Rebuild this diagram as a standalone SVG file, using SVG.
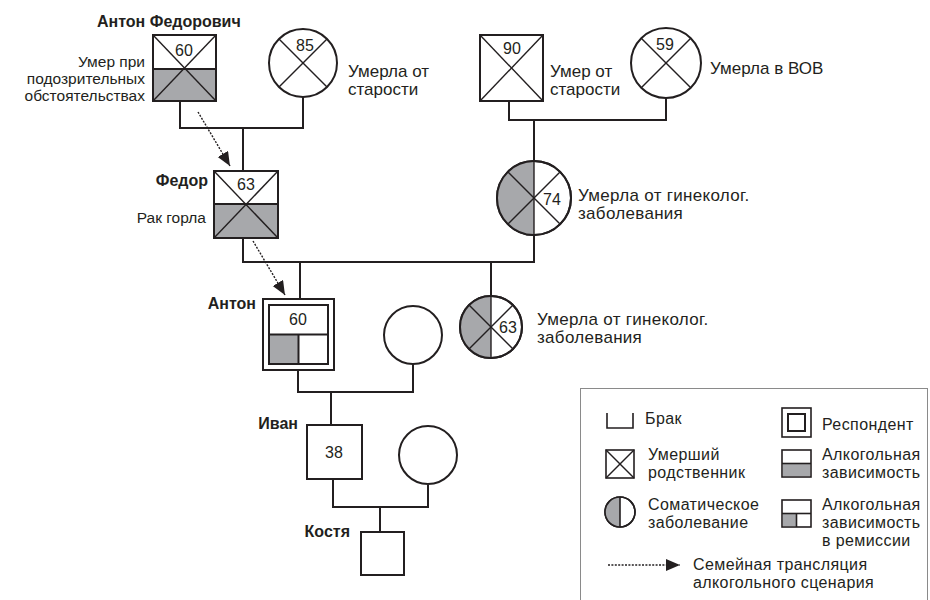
<svg xmlns="http://www.w3.org/2000/svg" width="930" height="600" viewBox="0 0 930 600">
<defs>
<style>
.t{font-family:"Liberation Sans",Arial,sans-serif;font-size:17px;fill:#231f20}
.lg{font-family:"Liberation Sans",Arial,sans-serif;font-size:16px;fill:#231f20;letter-spacing:0.4px}
.l{font-family:"Liberation Sans",Arial,sans-serif;font-size:15.5px;fill:#231f20;text-anchor:end}
.b{font-family:"Liberation Sans",Arial,sans-serif;font-size:16px;font-weight:bold;fill:#231f20}
.n{font-family:"Liberation Sans",Arial,sans-serif;font-size:16px;fill:#231f20;text-anchor:middle}
.sh{fill:#fff;stroke:#231f20;stroke-width:2}
.g{fill:#a7a8ab;stroke:none}
.x{stroke:#231f20;stroke-width:1.4;fill:none}
.c{stroke:#231f20;stroke-width:2;fill:none}
.d{stroke:#231f20;stroke-width:1.4;fill:none;stroke-dasharray:2 1.4}
</style>
<marker id="ah" markerUnits="userSpaceOnUse" markerWidth="15" markerHeight="13" refX="14" refY="6" orient="auto">
<path d="M0,0 L14,6 L0,12 Z" fill="#231f20"/>
</marker>
</defs>
<rect width="930" height="600" fill="#fff"/>

<g id="connectors">
<polyline class="c" points="180,101 180,128 303,128 303,97"/>
<line class="c" x1="243" y1="128" x2="243" y2="171"/>
<polyline class="c" points="509,102 509,120 666,120 666,98"/>
<line class="c" x1="534" y1="120" x2="534" y2="161"/>
<polyline class="c" points="243,238 243,262 534,262 534,235"/>
<line class="c" x1="300" y1="262" x2="300" y2="299"/>
<line class="c" x1="491" y1="262" x2="491" y2="296"/>
<polyline class="c" points="298,370 298,392 413,392 413,364"/>
<line class="c" x1="331" y1="392" x2="331" y2="425"/>
<polyline class="c" points="333,479 333,507 428,507 428,485"/>
<line class="c" x1="380" y1="507" x2="380" y2="532"/>
<line class="d" x1="198" y1="112" x2="230" y2="166" marker-end="url(#ah)"/>
<line class="d" x1="253" y1="241" x2="285" y2="295" marker-end="url(#ah)"/>
</g>

<g id="anton-fedorovich">
<rect class="sh" x="153" y="35" width="63" height="66"/>
<rect class="g" x="154" y="69" width="61" height="31"/>
<line class="c" x1="153" y1="69" x2="216" y2="69"/>
<rect x="153" y="35" width="63" height="66" fill="none" stroke="#231f20" stroke-width="2"/>
<line class="x" x1="153" y1="35" x2="216" y2="101"/>
<line class="x" x1="216" y1="35" x2="153" y2="101"/>
<text class="n" x="184" y="56">60</text>
<text class="b" x="97" y="27">Антон Федорович</text>
<text class="l" x="145" y="67">Умер при</text>
<text class="l" x="145" y="84">подозрительных</text>
<text class="l" x="145" y="101">обстоятельствах</text>
</g>

<g id="grandmother-85">
<circle class="sh" cx="303" cy="63" r="34"/>
<line class="x" x1="279" y1="39" x2="327" y2="87"/>
<line class="x" x1="327" y1="39" x2="279" y2="87"/>
<text class="n" x="305" y="51">85</text>
<text class="t" x="348" y="77">Умерла от</text>
<text class="t" x="348" y="95">старости</text>
</g>

<g id="grandfather-90">
<rect class="sh" x="480" y="35" width="63" height="66"/>
<line class="x" x1="480" y1="35" x2="543" y2="101"/>
<line class="x" x1="543" y1="35" x2="480" y2="101"/>
<text class="n" x="512" y="54">90</text>
<text class="t" x="550" y="77">Умер от</text>
<text class="t" x="550" y="95">старости</text>
</g>

<g id="grandmother-59">
<circle class="sh" cx="666" cy="63" r="35"/>
<line class="x" x1="641" y1="38" x2="691" y2="88"/>
<line class="x" x1="691" y1="38" x2="641" y2="88"/>
<text class="n" x="665" y="50">59</text>
<text class="t" x="710" y="74">Умерла в ВОВ</text>
</g>

<g id="fedor">
<rect class="sh" x="214" y="171" width="64" height="67"/>
<rect class="g" x="215" y="204" width="62" height="33"/>
<line class="c" x1="214" y1="204" x2="278" y2="204"/>
<rect x="214" y="171" width="64" height="67" fill="none" stroke="#231f20" stroke-width="2"/>
<line class="x" x1="214" y1="171" x2="278" y2="238"/>
<line class="x" x1="278" y1="171" x2="214" y2="238"/>
<text class="n" x="246" y="190">63</text>
<text class="b" x="208" y="186" text-anchor="end">Федор</text>
<text class="l" x="206" y="223">Рак горла</text>
</g>

<g id="mother-74">
<circle class="sh" cx="534" cy="198" r="37"/>
<path class="g" d="M534,161 A37,37 0 0 0 534,235 Z"/>
<circle cx="534" cy="198" r="37" fill="none" stroke="#231f20" stroke-width="2"/>
<line class="x" x1="534" y1="161" x2="534" y2="235"/>
<line class="x" x1="508" y1="172" x2="560" y2="224"/>
<line class="x" x1="560" y1="172" x2="508" y2="224"/>
<text class="n" x="552" y="205">74</text>
<text class="t" x="578" y="201" letter-spacing="0.3">Умерла от гинеколог.</text>
<text class="t" x="578" y="219" letter-spacing="0.3">заболевания</text>
</g>

<g id="anton">
<rect class="sh" x="263" y="299" width="71" height="71"/>
<rect class="sh" x="269" y="305" width="59" height="59"/>
<rect class="g" x="270" y="335" width="28" height="28"/>
<line class="c" x1="269" y1="334.5" x2="328" y2="334.5"/>
<line class="c" x1="298.5" y1="334.5" x2="298.5" y2="364"/>
<text class="n" x="298" y="325">60</text>
<text class="b" x="256" y="309" text-anchor="end">Антон</text>
</g>

<g id="aunt-63">
<circle class="sh" cx="491" cy="327" r="31"/>
<path class="g" d="M491,296 A31,31 0 0 0 491,358 Z"/>
<circle cx="491" cy="327" r="31" fill="none" stroke="#231f20" stroke-width="2"/>
<line class="x" x1="491" y1="296" x2="491" y2="358"/>
<line class="x" x1="469" y1="305" x2="513" y2="349"/>
<line class="x" x1="513" y1="305" x2="469" y2="349"/>
<text class="n" x="508" y="333">63</text>
<text class="t" x="537" y="325" letter-spacing="0.3">Умерла от гинеколог.</text>
<text class="t" x="537" y="343" letter-spacing="0.3">заболевания</text>
</g>

<g id="anton-wife">
<circle class="sh" cx="413" cy="335" r="29"/>
</g>

<g id="ivan">
<rect class="sh" x="307" y="425" width="55" height="54"/>
<text class="n" x="334" y="458">38</text>
<text class="b" x="298" y="429" text-anchor="end">Иван</text>
</g>

<g id="ivan-wife">
<circle class="sh" cx="428" cy="455" r="29"/>
</g>

<g id="kostya">
<rect class="sh" x="361" y="532" width="43" height="43"/>
<text class="b" x="350" y="537" text-anchor="end">Костя</text>
</g>

<g id="legend">
<rect x="580.5" y="388.5" width="347" height="215" fill="#fff" stroke="#8a8a8a" stroke-width="1"/>
<polyline points="607,413 607,428 633,428 633,413" fill="none" stroke="#231f20" stroke-width="1.6"/>
<text class="lg" x="645" y="424">Брак</text>
<rect x="782" y="408" width="29" height="29" fill="#fff" stroke="#231f20" stroke-width="1.6"/>
<rect x="788" y="414" width="17" height="17" fill="#fff" stroke="#231f20" stroke-width="2"/>
<text class="lg" x="822" y="430">Респондент</text>
<rect x="606" y="450" width="28" height="28" fill="#fff" stroke="#231f20" stroke-width="1.6"/>
<line class="x" x1="606" y1="450" x2="634" y2="478"/>
<line class="x" x1="634" y1="450" x2="606" y2="478"/>
<text class="lg" x="648" y="460">Умерший</text>
<text class="lg" x="648" y="478">родственник</text>
<rect x="782" y="450" width="29" height="27" fill="#fff" stroke="#231f20" stroke-width="1.6"/>
<rect class="g" x="783" y="464" width="27" height="12"/>
<line x1="782" y1="463.5" x2="811" y2="463.5" stroke="#231f20" stroke-width="1.6"/>
<text class="lg" x="822" y="460">Алкогольная</text>
<text class="lg" x="822" y="478">зависимость</text>
<circle cx="620" cy="512" r="15" fill="#fff" stroke="#231f20" stroke-width="1.6"/>
<path class="g" d="M620,497 A15,15 0 0 0 620,527 Z"/>
<circle cx="620" cy="512" r="15" fill="none" stroke="#231f20" stroke-width="1.6"/>
<line x1="620" y1="497" x2="620" y2="527" stroke="#231f20" stroke-width="1.6"/>
<text class="lg" x="648" y="510">Соматическое</text>
<text class="lg" x="648" y="528">заболевание</text>
<rect x="782" y="500" width="29" height="27" fill="#fff" stroke="#231f20" stroke-width="1.6"/>
<rect class="g" x="783" y="514" width="13" height="12"/>
<line x1="782" y1="513.5" x2="811" y2="513.5" stroke="#231f20" stroke-width="1.6"/>
<line x1="796.5" y1="513.5" x2="796.5" y2="527" stroke="#231f20" stroke-width="1.6"/>
<text class="lg" x="822" y="510">Алкогольная</text>
<text class="lg" x="822" y="528">зависимость</text>
<text class="lg" x="822" y="546">в ремиссии</text>
<line class="d" x1="608" y1="565" x2="680" y2="565" marker-end="url(#ah)"/>
<text class="lg" x="693" y="570">Семейная трансляция</text>
<text class="lg" x="693" y="588">алкогольного сценария</text>
</g>
</svg>
